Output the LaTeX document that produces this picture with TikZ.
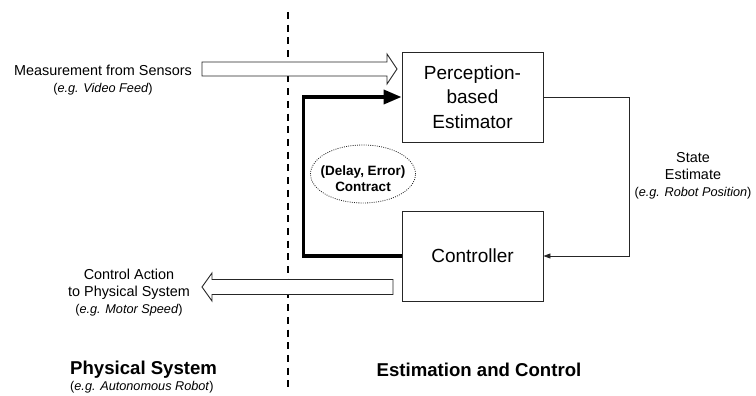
\documentclass[tikz,border=0pt]{standalone}
\usepackage{fontspec}
\setmainfont{Liberation Sans}
\usetikzlibrary{arrows.meta,shapes.geometric}

\tikzset{
  block/.style={draw=black!85, line width=0.9pt, minimum width=141pt, minimum height=90pt,
    align=center, inner sep=0pt, font=\fontsize{19}{24.5}\selectfont},
  label/.style={align=center, inner sep=0pt, font=\fontsize{14.4}{17}\selectfont},
  heading/.style={inner sep=0pt, font=\fontsize{18.6}{22}\selectfont\bfseries},
  thin link/.style={draw=black!85, line width=0.9pt, -{Triangle[length=7pt,width=5pt]}},
  thick link/.style={line width=3.6pt, -{Triangle[length=18pt,width=14pt]}},
  hollow/.style={draw=black!85, line width=0.9pt, fill=white, line join=miter},
}
\newcommand{\eg}[1]{{\fontsize{12.7}{17}\selectfont(\textit{e.g. #1})}}

\begin{document}
\begin{tikzpicture}[x=1pt, y=-1pt]
  \path[use as bounding box] (0,0) rectangle (756,396);

  % boundary between the two domains
  \draw[line width=1.6pt, dash pattern=on 7pt off 5.7pt] (288,12) -- (288,390);

  % main blocks
  \node[block] (est) at (472.5,97) {Perception-\\based\\Estimator};
  \node[block] (ctrl) at (472.5,256) {Controller};

  % contract bubble
  \node[ellipse, draw=black!85, line width=0.8pt, dash pattern=on 0.9pt off 1.3pt,
        minimum width=105pt, minimum height=58pt, inner sep=0pt] (contract) at (363,174) {};
  \node[align=center, inner sep=0pt, font=\fontsize{13.5}{15.5}\selectfont\bfseries]
        (contracttext) at (363,178.5) {(Delay, Error)\\Contract};

  % feedback paths
  \draw[thin link] (est.east) -- ++(86,0) |- (ctrl.east);
  \draw[thick link] (ctrl.west) -- ++(-98,0) |- (est.west);

  % hollow arrow: sensor measurement into the estimator
  \draw[hollow] (202,62) -- (387,62) -- (387,54) -- (397,69) -- (387,84) -- (387,76)
    -- (202,76) -- cycle;
  % hollow arrow: control action out to the physical system
  \draw[hollow] (393,279.5) -- (212,279.5) -- (212,273) -- (202,287) -- (212,301)
    -- (212,294.5) -- (393,294.5) -- cycle;

  % side labels
  \node[label] (meas) at (103,80) {Measurement from Sensors\\\eg{Video Feed}};
  \node[label] (state) at (693,176) {State\\Estimate\\\eg{Robot Position}};
  \node[label] (act) at (129,293) {Control Action\\to Physical System\\\eg{Motor Speed}};

  % domain headings
  \node[heading, anchor=west] (phys) at (70,370) {Physical System};
  \node[inner sep=0pt, anchor=west] (physeg) at (70,387) {\eg{Autonomous Robot}};
  \node[heading] (estctl) at (479,370) {Estimation and Control};
\end{tikzpicture}
\end{document}
